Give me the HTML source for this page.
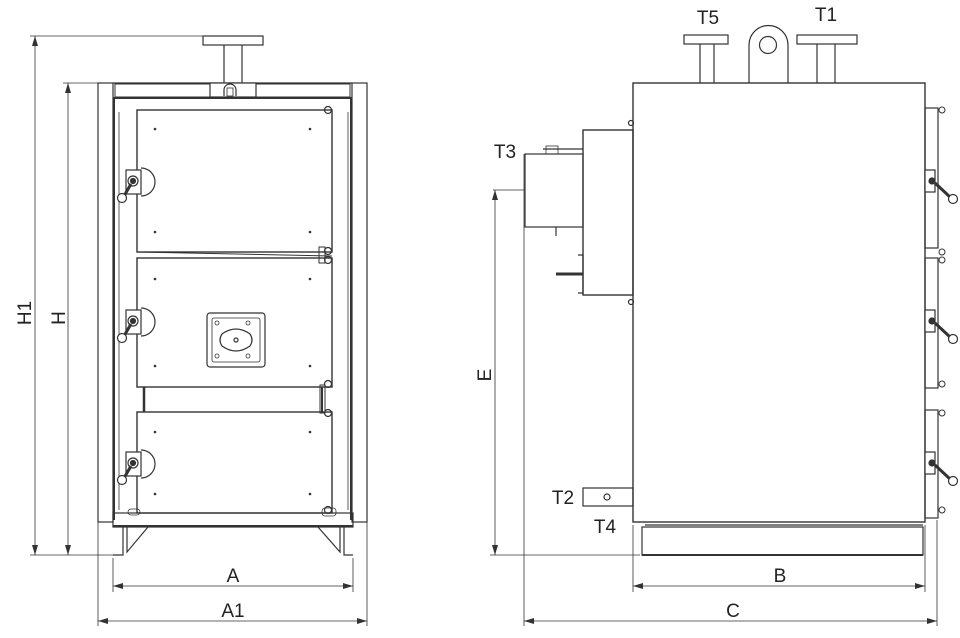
<!DOCTYPE html>
<html><head><meta charset="utf-8"><style>
html,body{margin:0;padding:0;background:#fff;width:960px;height:638px;overflow:hidden}
svg{display:block}
text{font-family:"Liberation Sans",sans-serif;fill:#222}
</style></head><body>
<svg width="960" height="638" viewBox="0 0 960 638" xmlns="http://www.w3.org/2000/svg">
<defs>
<marker id="ar" viewBox="0 0 10 6" refX="10" refY="3" markerWidth="10" markerHeight="6" orient="auto-start-reverse" markerUnits="userSpaceOnUse"><path d="M0,0 L10,3 L0,6 z" fill="#333"/></marker>
</defs>
<g fill="none" stroke="#333" stroke-width="1.2">
<!-- LEFT VIEW -->
<rect x="203" y="36" width="60" height="9" fill="#fff"/>
<line x1="224" y1="45" x2="224" y2="83"/><line x1="242" y1="45" x2="242" y2="83"/>
<rect x="98" y="83" width="15" height="439"/>
<rect x="352" y="83" width="15" height="439"/>
<line x1="113" y1="83" x2="352" y2="83"/>
<rect x="115" y="84" width="235" height="13" stroke-width="1"/>
<line x1="113" y1="98" x2="352" y2="98" stroke-width="2"/>
<rect x="210" y="83" width="46" height="14" fill="#fff"/>
<path d="M224,96 v-6 a6,6 0 0 1 12,0 v6" />
<rect x="227" y="88" width="6" height="8" stroke-width="0.8"/>
<line x1="114" y1="98" x2="114" y2="520" stroke-width="2"/>
<line x1="119" y1="112" x2="119" y2="510" stroke-width="0.8"/>
<line x1="348" y1="112" x2="348" y2="510" stroke-width="0.8"/>
<line x1="351" y1="98" x2="351" y2="520" stroke-width="2"/>
<!-- doors -->
<rect x="137" y="110" width="195" height="142" stroke-width="1.4"/>
<rect x="137" y="258" width="195" height="129" stroke-width="1.4"/>
<line x1="137" y1="252" x2="332" y2="256" stroke-width="1"/>
<line x1="144" y1="387" x2="144" y2="412" stroke-width="2.5"/>
<line x1="322" y1="387" x2="322" y2="412" stroke-width="2"/>
<rect x="137" y="412" width="195" height="101" stroke-width="1.4"/>
<rect x="207" y="313" width="58" height="54" rx="3"/>
<rect x="212" y="318" width="48" height="44" rx="2" stroke-width="0.8"/>
<path d="M222,334 q14,-10 28,0 q4,6 0,12 q-14,10 -28,0 q-4,-6 0,-12z"/>
<circle cx="236" cy="340" r="2"/>
<circle cx="217" cy="356" r="2" stroke-width="0.8"/><circle cx="248" cy="356" r="2" stroke-width="0.8"/>
<circle cx="217" cy="323" r="2" stroke-width="0.8"/><circle cx="248" cy="323" r="2" stroke-width="0.8"/>
<!-- hinges -->
<circle cx="328" cy="110" r="3.5"/><circle cx="328" cy="251" r="3.5"/><circle cx="328" cy="260" r="3.5"/>
<circle cx="328" cy="384" r="3.5"/><circle cx="328" cy="413" r="3.5"/><circle cx="328" cy="510" r="3.5"/>
<rect x="319" y="247" width="6" height="16" stroke-width="1"/><rect x="320" y="385" width="5" height="28" stroke-width="1"/>
<rect x="128" y="509" width="12" height="6" rx="3" stroke-width="0.8"/><rect x="322" y="508" width="14" height="8" rx="3" stroke-width="0.8"/>
<!-- handles -->
<g id="h"><path d="M141,168 a14,14 0 0 1 0,28" /><rect x="126" y="170" width="15" height="24" fill="#fff"/><circle cx="133" cy="181" r="5"/><circle cx="133" cy="181" r="2.5" fill="#333"/><line x1="131" y1="184" x2="124" y2="196" stroke-width="3"/><circle cx="122" cy="198" r="4.5" fill="#fff"/></g>
<use href="#h" y="140"/><use href="#h" y="282"/>
<!-- base & legs -->
<rect x="113" y="513" width="240" height="14" stroke-width="1.2"/>
<line x1="113" y1="526" x2="353" y2="526" stroke-width="2"/>
<path d="M123,527 V555 H113 M127,527 V552 L148,527"/>
<path d="M344,527 V555 H353 M340,527 V552 L318,527"/>
<!-- dims left -->
<g stroke-width="0.8">
<line x1="30" y1="36" x2="203" y2="36"/><line x1="63" y1="83" x2="98" y2="83"/>
<line x1="30" y1="555" x2="113" y2="555"/>
<line x1="35" y1="36" x2="35" y2="555" marker-start="url(#ar)" marker-end="url(#ar)"/>
<line x1="68" y1="83" x2="68" y2="555" marker-start="url(#ar)" marker-end="url(#ar)"/>
<line x1="113" y1="558" x2="113" y2="592"/><line x1="353" y1="558" x2="353" y2="592"/>
<line x1="98" y1="522" x2="98" y2="626"/><line x1="367" y1="522" x2="367" y2="626"/>
<line x1="113" y1="586" x2="353" y2="586" marker-start="url(#ar)" marker-end="url(#ar)"/>
<line x1="98" y1="621" x2="367" y2="621" marker-start="url(#ar)" marker-end="url(#ar)"/>
</g>
<!-- RIGHT VIEW -->
<rect x="684" y="35" width="44" height="9" fill="#fff"/>
<line x1="700" y1="44" x2="700" y2="83"/><line x1="714" y1="44" x2="714" y2="83"/>
<path d="M749,83 V45 a19.5,19.5 0 0 1 39,0 V83"/>
<circle cx="768" cy="45" r="8.5"/>
<rect x="797" y="35" width="60" height="9" fill="#fff"/>
<line x1="817" y1="44" x2="817" y2="83"/><line x1="835" y1="44" x2="835" y2="83"/>
<rect x="633" y="83" width="292" height="439" stroke-width="1.4"/>
<rect x="583" y="130" width="50" height="165" stroke-width="1.4"/>
<rect x="525" y="154" width="58" height="73"/>
<line x1="543" y1="149" x2="583" y2="149"/><rect x="546" y="146" width="12" height="8" stroke-width="0.8"/>
<line x1="556" y1="227" x2="556" y2="236"/>
<path d="M578,255 h5 v38 h-5" stroke-width="1.2"/>
<line x1="556" y1="274" x2="583" y2="274" stroke-width="3"/>
<circle cx="631" cy="123" r="2.5"/><circle cx="631" cy="302" r="2.5"/>
<!-- right door strip -->
<rect x="925" y="108" width="13" height="140"/>
<rect x="925" y="258" width="13" height="130"/>
<rect x="925" y="410" width="13" height="108"/>
<g stroke-width="1"><circle cx="942" cy="110" r="3"/><circle cx="942" cy="252" r="3"/><circle cx="942" cy="260" r="3"/><circle cx="942" cy="384" r="3"/><circle cx="942" cy="413" r="3"/><circle cx="942" cy="510" r="3"/></g>
<g id="rh"><rect x="925" y="170" width="10" height="22" fill="#fff"/><circle cx="932" cy="181" r="3" fill="#333"/><line x1="935" y1="183" x2="950" y2="197" stroke-width="3"/><circle cx="953" cy="199" r="4.5" fill="#fff"/></g>
<use href="#rh" y="140"/><use href="#rh" y="282"/>
<!-- base right -->
<line x1="645" y1="525" x2="923" y2="525" stroke-width="1.2"/>
<rect x="642" y="527" width="281" height="28"/>
<line x1="642" y1="555" x2="923" y2="555" stroke-width="2"/>
<rect x="583" y="488" width="50" height="18"/>
<circle cx="607" cy="497" r="3"/>
<!-- dims right -->
<g stroke-width="0.8">
<line x1="493" y1="190" x2="525" y2="190"/>
<line x1="495" y1="190" x2="495" y2="555" marker-start="url(#ar)" marker-end="url(#ar)"/>
<line x1="490" y1="555" x2="640" y2="555"/>
<line x1="524" y1="154" x2="524" y2="626"/>
<line x1="937" y1="520" x2="937" y2="626"/>
<line x1="633" y1="525" x2="633" y2="592"/><line x1="925" y1="525" x2="925" y2="592"/>
<line x1="633" y1="586" x2="925" y2="586" marker-start="url(#ar)" marker-end="url(#ar)"/>
<line x1="524" y1="621" x2="937" y2="621" marker-start="url(#ar)" marker-end="url(#ar)"/>
</g>
</g>
<g fill="#333">
<circle cx="155" cy="129" r="1.3"/><circle cx="310" cy="129" r="1.3"/><circle cx="155" cy="232" r="1.3"/><circle cx="310" cy="232" r="1.3"/>
<circle cx="155" cy="279" r="1.3"/><circle cx="310" cy="279" r="1.3"/><circle cx="155" cy="366" r="1.3"/><circle cx="310" cy="366" r="1.3"/>
<circle cx="155" cy="432" r="1.3"/><circle cx="310" cy="432" r="1.3"/><circle cx="155" cy="494" r="1.3"/><circle cx="310" cy="494" r="1.3"/>
</g>
<g font-size="19">
<text x="26" y="313" transform="rotate(-90 26 313)" text-anchor="middle" dominant-baseline="middle">H1</text>
<text x="60" y="318" transform="rotate(-90 60 318)" text-anchor="middle" dominant-baseline="middle">H</text>
<text x="233" y="582" text-anchor="middle">A</text>
<text x="233" y="617" text-anchor="middle">A1</text>
<text x="486" y="375" transform="rotate(-90 486 375)" text-anchor="middle" dominant-baseline="middle">E</text>
<text x="780" y="582" text-anchor="middle">B</text>
<text x="733" y="617" text-anchor="middle">C</text>
<text x="708" y="24" text-anchor="middle">T5</text>
<text x="826" y="21" text-anchor="middle">T1</text>
<text x="505" y="158" text-anchor="middle">T3</text>
<text x="563" y="504" text-anchor="middle">T2</text>
<text x="605" y="533" text-anchor="middle">T4</text>
</g>
</svg>
</body></html>
